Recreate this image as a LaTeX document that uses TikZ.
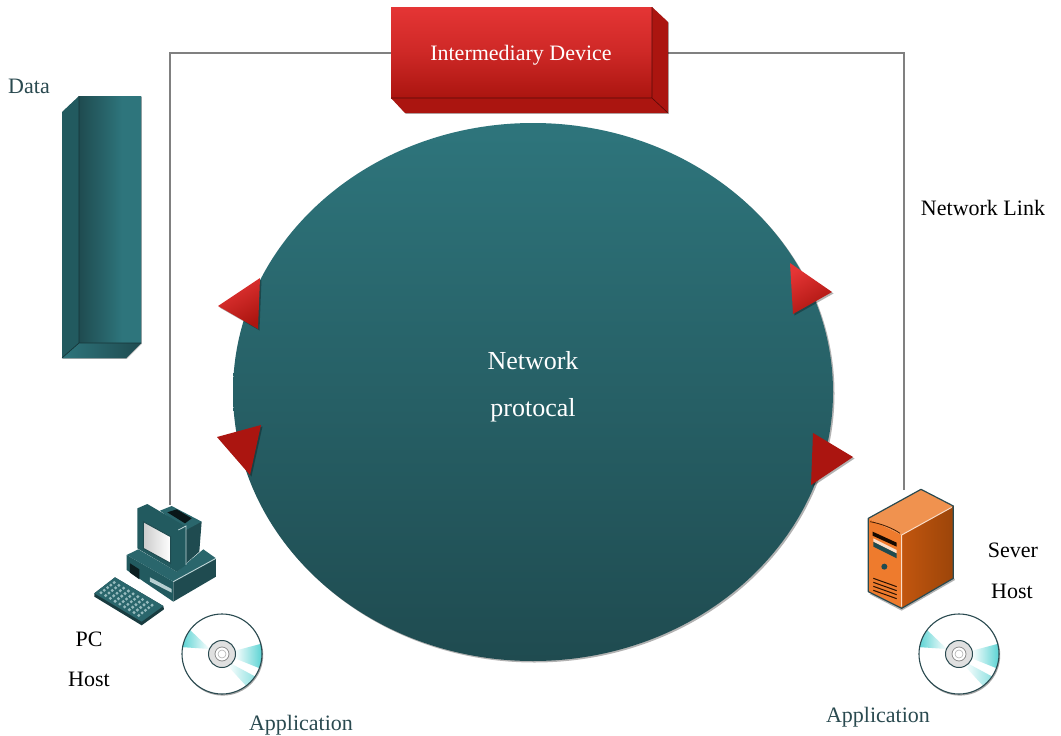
\documentclass[tikz,border=0pt]{standalone}
\usepackage{fontspec}
\setmainfont{Liberation Serif}
\usetikzlibrary{shapes.geometric,shadows}
\definecolor{tealL}{HTML}{2E757C}
\definecolor{tealM}{HTML}{2A666C}
\definecolor{tealD}{HTML}{1F4B50}
\definecolor{tealS}{HTML}{225A5F}
\definecolor{redL}{HTML}{E53535}
\definecolor{redD}{HTML}{AB1510}
\definecolor{orgF}{HTML}{EE7B2D}
\definecolor{orgT}{HTML}{F0924F}
\definecolor{orgR}{HTML}{C2560F}
\definecolor{orgS}{HTML}{9C4509}
\definecolor{cdcyan}{HTML}{4FD0D0}
\definecolor{inkD}{HTML}{2A4A50}
\pgfdeclarehorizontalshading{barshade}{100bp}{color(0bp)=(tealD); color(25bp)=(tealD); color(60bp)=(tealL); color(100bp)=(tealL)}
\tikzset{
  softshadow/.style={drop shadow={shadow xshift=1.5pt,shadow yshift=-1.5pt,opacity=.3,fill=black}},
  linkline/.style={draw=black!50,line width=1.6pt},
  label/.style={font=\fontsize{22}{24}\selectfont,text=black,inner sep=0pt},
  tealabel/.style={label,text=inkD},
  whitelabel/.style={label,text=white},
  tri/.style={fill=redD,softshadow},
  trilight/.style={top color=redL,bottom color=redD,shading angle=30,softshadow},
  cdisc/.pic={
    \fill[black!35] (.8,1.2) circle (40.4);
    \fill[white] (0,0) circle (40);
    \begin{scope}
      \clip (0,0) circle (40);
      \shade[left color=cdcyan,right color=white] (-12,-5) -- (-33,-25) -- (-42,-7) -- cycle;
      \shade[left color=white,right color=cdcyan] (12,-3) -- (42,-11) -- (42,16) -- (12,4) -- cycle;
      \shade[left color=white,right color=cdcyan!70] (8,9) -- (36,24) -- (26,34) -- (5,11) -- cycle;
    \end{scope}
    \draw[inkD,line width=1.1pt] (0,0) circle (40);
    \draw[inkD,line width=1pt,fill=black!12] (0,0) circle (13.5);
    \draw[black!45,line width=.8pt,fill=white] (0,0) circle (7);
    \draw[black!30,line width=.6pt,fill=white] (0,0) circle (4);
  }
}
\begin{document}
\begin{tikzpicture}[x=1pt,y=-1pt]
\useasboundingbox (0,0) rectangle (1061,736);
\fill[white] (0,0) rectangle (1061,736);
\coordinate (pctop) at (170,505);
\coordinate (srvtop) at (904,490);
\coordinate (devleft) at (391,53);
\coordinate (devright) at (667,53);

% connectors
\draw[linkline] (pctop) |- (devleft);
\draw[linkline] (srvtop) |- (devright);

% intermediary device
\fill[redD,drop shadow={shadow xshift=.8pt,shadow yshift=-.8pt,opacity=.3,fill=black}] (391,7) -- (652,7) -- (668,22) -- (668,113) -- (405,113) -- (391,98) -- cycle;
\node[rectangle,minimum width=261pt,minimum height=91pt,inner sep=0pt,outer sep=0pt,top color=redL,bottom color=redD,middle color=redL!60!redD] (dev) at (521.5,52.5) {};
\draw[black!50!redD,line width=.6pt] (652,98) -- (668,113) (652,7) -- (652,98) -- (391,98);
\node[whitelabel] (devtxt) at (521,55.5) {Intermediary Device};

% data bar
\fill[tealS,drop shadow={shadow xshift=.8pt,shadow yshift=-.8pt,opacity=.3,fill=black}] (79,96) -- (141,96) -- (141,343) -- (126,358) -- (62,358) -- (62,112) -- cycle;
\shade[shading=barshade] (79,96) rectangle (141,343);
\shade[left color=tealL,right color=tealD] (79,343) -- (141,343) -- (126,358) -- (62,358) -- cycle;
\draw[black!30!tealD,line width=.7pt] (79,96) -- (79,343) -- (141,343) (79,343) -- (62,358);
\node[tealabel] (data) at (29,86) {Data};

% network circle
\node[ellipse,minimum width=600pt,minimum height=538pt,inner sep=0pt,outer sep=0pt,top color=tealL,middle color=tealM,bottom color=tealD,softshadow] (net) at (533,392) {};
\node[whitelabel,font=\fontsize{26}{28}\selectfont] (n1) at (533,360.5) {Network};
\node[whitelabel,font=\fontsize{26}{28}\selectfont] (n2) at (533,410) {protocal};

% arrow triangles
\path[trilight] (218,306) -- (260,278) -- (258,329) -- cycle;
\path[tri] (217,437) -- (261,425) -- (250,475) -- cycle;
\path[trilight] (832,292) -- (790,263) -- (793,314) -- cycle;
\path[tri] (853,457) -- (813,433) -- (811,485) -- cycle;

% PC (coordinates read from a 3x crop)
\begin{scope}[shift={(60,480)},x=.3333pt,y=-.3333pt]
  % keyboard
  \fill[tealD!80!black] (103,340) -- (165,292) -- (310,378) -- (312,388) -- (245,436) -- (103,350) -- cycle;
  \fill[tealM] (103,340) -- (165,292) -- (310,378) -- (245,425) -- cycle;
  \foreach \u in {.16,.32,.48,.64,.80}
    \foreach \v in {.07,.17,.27,.37,.47,.57,.67,.77,.87}
      \fill[white!50!tealL] ({103+\u*62+\v*142},{340-\u*48+\v*85}) circle (5);
  % base
  \fill[tealS] (200,225) -- (340,305) -- (340,365) -- (200,270) -- cycle;
  \fill[tealD] (340,305) -- (468,235) -- (468,290) -- (340,365) -- cycle;
  \fill[tealM] (200,225) -- (235,208) -- (350,275) -- (430,208) -- (468,235) -- (340,305) -- cycle;
  \draw[white!70!tealL,line width=.9pt] (340,305) -- (468,235);
  \fill[white!65!tealL] (270,292) -- (335,327) -- (335,338) -- (270,305) -- cycle;
  \fill[black!60!tealD] (210,250) -- (238,268) -- (238,298) -- (210,278) -- cycle;
  % monitor back
  \fill[tealD] (350,150) -- (378,135) -- (425,125) -- (418,215) -- (350,275) -- cycle;
  \fill[tealM] (300,92) -- (335,78) -- (425,125) -- (378,150) -- cycle;
  \fill[black!70!tealD] (322,97) -- (350,88) -- (395,115) -- (375,130) -- cycle;
  % monitor front
  \fill[tealS] (232,85) -- (262,72) -- (378,140) -- (378,255) -- (350,275) -- (232,205) -- cycle;
  \draw[white!70!tealL,line width=.8pt] (355,150) -- (378,138) -- (378,255);
  \shade[left color=black!20,right color=white] (250,125) -- (332,170) -- (332,250) -- (250,205) -- cycle;
  \draw[tealD,line width=1pt] (250,125) -- (332,170) -- (332,250) -- (250,205) -- cycle;
\end{scope}

% server
\begin{scope}[shift={(840,470)},x=.3333pt,y=-.3333pt]
  \fill[black!30] (88,372) -- (185,422) -- (345,330) -- (340,320) -- cycle;
  \fill[orgT] (85,145) -- (243,58) -- (340,108) -- (185,195) -- cycle;
  \fill[orgF] (85,145) -- (185,195) -- (185,415) -- (85,365) -- cycle;
  \shade[left color=orgR,right color=orgS] (185,195) -- (340,108) -- (340,325) -- (185,415) -- cycle;
  \draw[white!70!orgT,line width=1pt] (185,195) -- (335,112) (185,195) -- (185,410);
  \draw[black!60!orgS,line width=.8pt] (90,155) .. controls (120,160) and (160,175) .. (180,190);
  \draw[inkD,line width=1.2pt,line join=round] (85,145) -- (243,58) -- (340,108) -- (340,325) -- (185,415) -- (85,365) -- cycle;
  \fill[black!85!orgS] (98,185) -- (170,218) -- (170,230) -- (98,197) -- cycle;
  \fill[tealD] (100,215) -- (170,250) -- (170,265) -- (100,230) -- cycle;
  \fill[white!70!orgT] (100,205) -- (170,240) -- (170,250) -- (100,215) -- cycle;
  \fill[tealD] (133,290) circle (9);
  \foreach \d in {0,12,24,36}
    \draw[black!75!orgS,line width=1pt] (100,{325+\d}) -- (170,{350+\d});
\end{scope}

% discs
\pic (cdA) at (222,654) {cdisc};
\pic (cdB) at (959,654) {cdisc};

% labels
\node[label] (link) at (983,208) {Network Link};
\node[label] (sv) at (1013,550) {Sever};
\node[label] (sh) at (1012,591) {Host};
\node[label] (pc) at (89,639) {PC};
\node[label] (ph) at (89,679) {Host};
\node[tealabel] (app1) at (301,725) {Application};
\node[tealabel] (app2) at (878,717) {Application};
\end{tikzpicture}
\end{document}
